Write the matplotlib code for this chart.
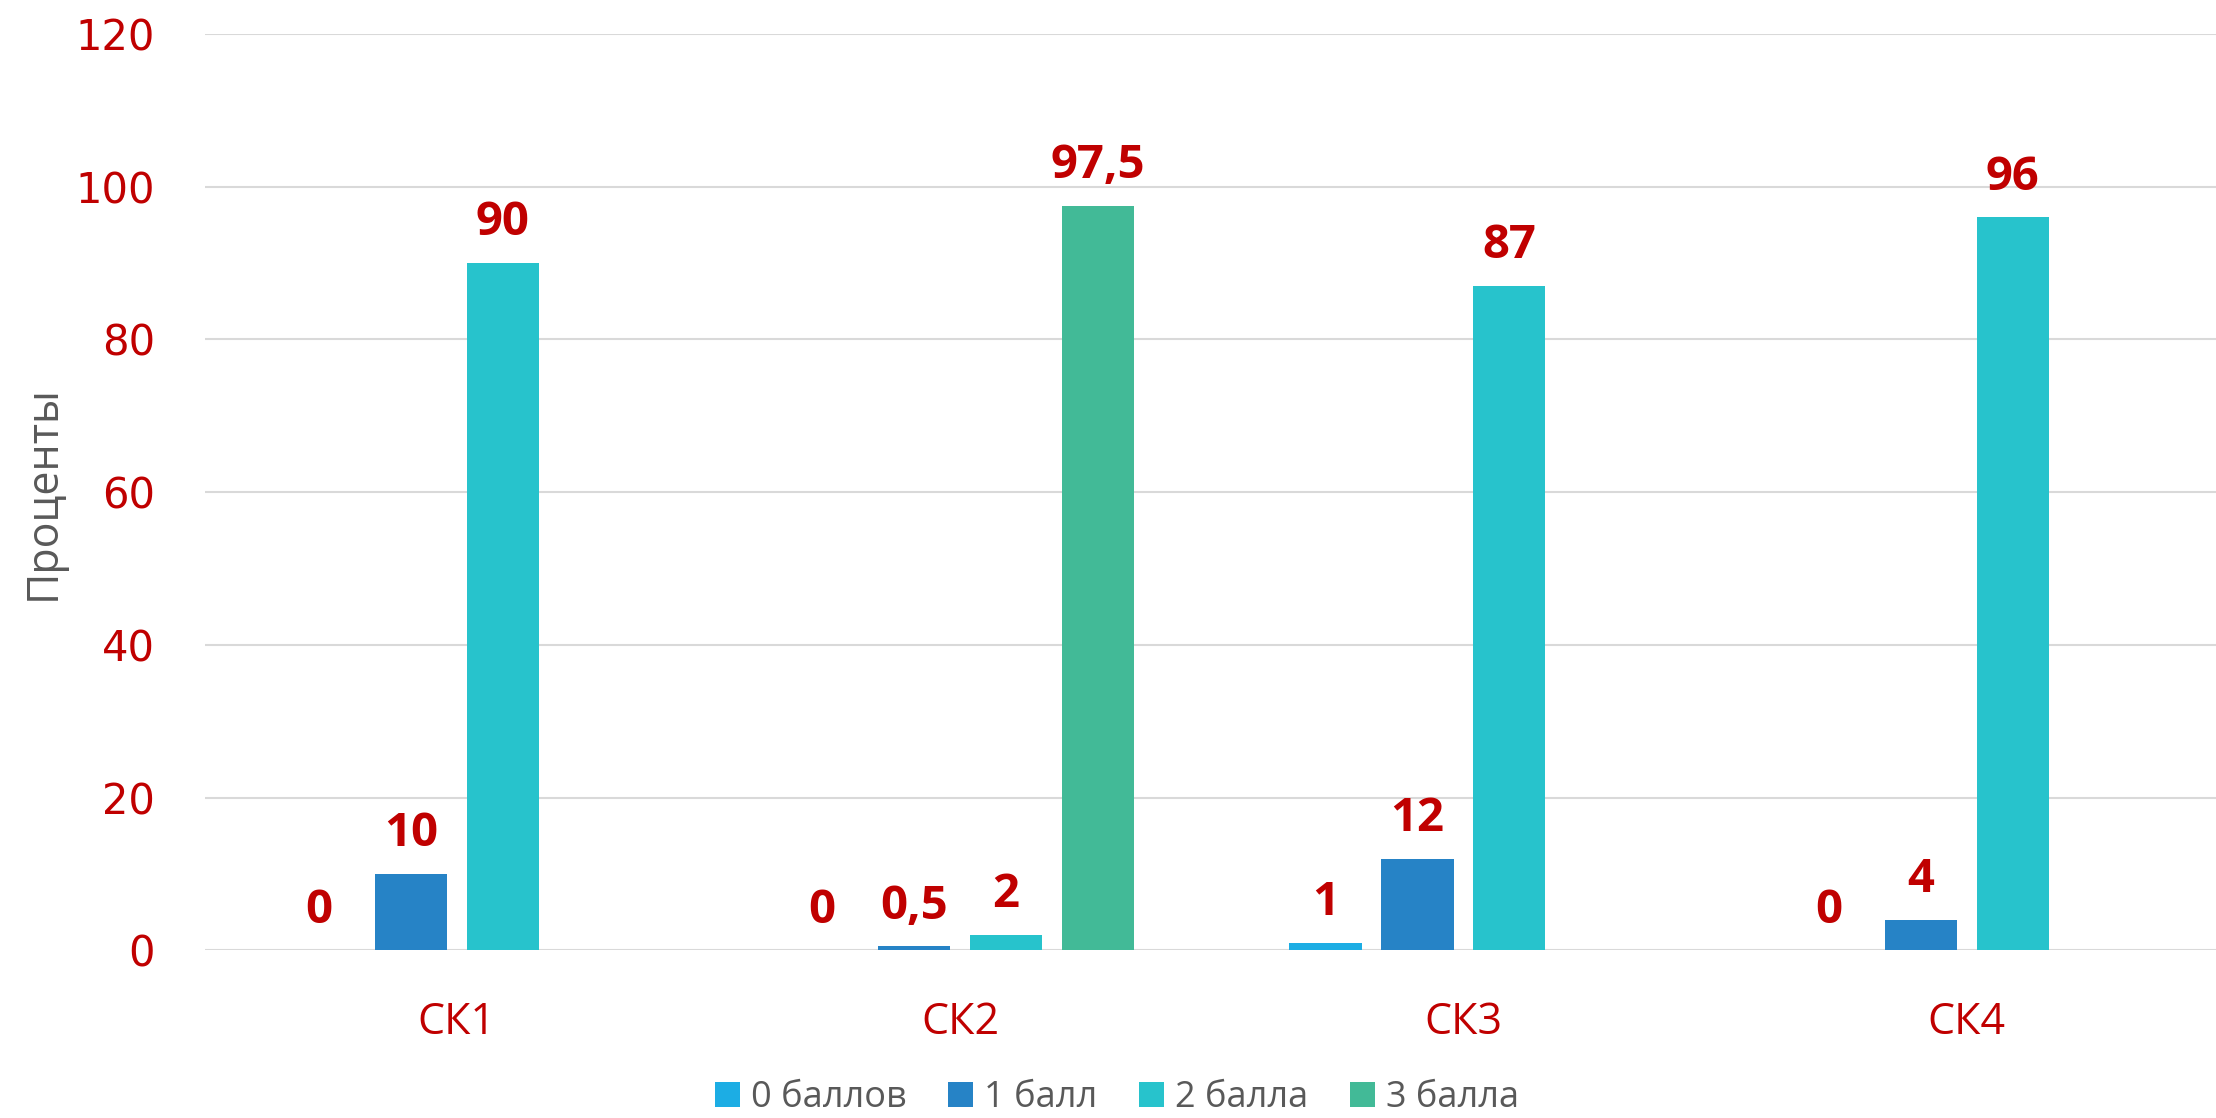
import matplotlib.pyplot as plt
import numpy as np

categories = ["СК1", "СК2", "СК3", "СК4"]
series_names = ["0 баллов", "1 балл", "2 балла", "3 балла"]
ball0 = [0, 0, 1, 0]
ball1 = [10, 0.5, 12, 4]
ball2 = [90, 2, 87, 96]
ball3 = [np.nan, 97.5, np.nan, np.nan]
y_ticks = [0, 20, 40, 60, 80, 100, 120]

colors = ["#1CADE4", "#2683C6", "#27C3CC", "#42BA97"]
red = "#C00000"
gray = "#595959"

fig = plt.figure(figsize=(22.16, 11.18), dpi=100)
ax = fig.add_axes([0.0925, 0.150, 0.9075, 0.8196])

x = np.arange(len(categories))
slot = 0.1826
bar_w = 0.1433

for i, (name, vals) in enumerate(zip(series_names, [ball0, ball1, ball2, ball3])):
    pos = x + (i - 1.5) * slot
    bars = ax.bar(pos, vals, bar_w, color=colors[i], label=name, zorder=3)
    labels = ["" if np.isnan(v) else f"{v:g}".replace(".", ",") for v in vals]
    ax.bar_label(bars, labels=labels, padding=12, color=red, fontsize=34,
                 fontweight="bold", family="Open Sans")

ax.set_xlim(-0.5, 3.495)
ax.set_ylim(0, 120)
ax.set_yticks(y_ticks)
ax.set_xticks(x)
ax.set_xticklabels(categories, family="Open Sans", fontsize=31, color=red)
ax.tick_params(axis="y", length=0, pad=36, labelsize=30, labelcolor=red)
ax.tick_params(axis="x", length=0, pad=36)
ax.grid(axis="y", color="#D9D9D9", linewidth=1.5, zorder=0)
for s in ax.spines.values():
    s.set_visible(False)

ax.set_ylabel("Проценты", family="Open Sans", fontsize=31, color=gray, labelpad=7)

fig.legend(loc="center", bbox_to_anchor=(0.504, 0.018), ncol=4, frameon=False,
           prop={"family": "Open Sans", "size": 26}, labelcolor=gray,
           handlelength=0.7, handleheight=0.7, handletextpad=0.3, columnspacing=1.15)

fig.savefig("out.png", dpi=100)
